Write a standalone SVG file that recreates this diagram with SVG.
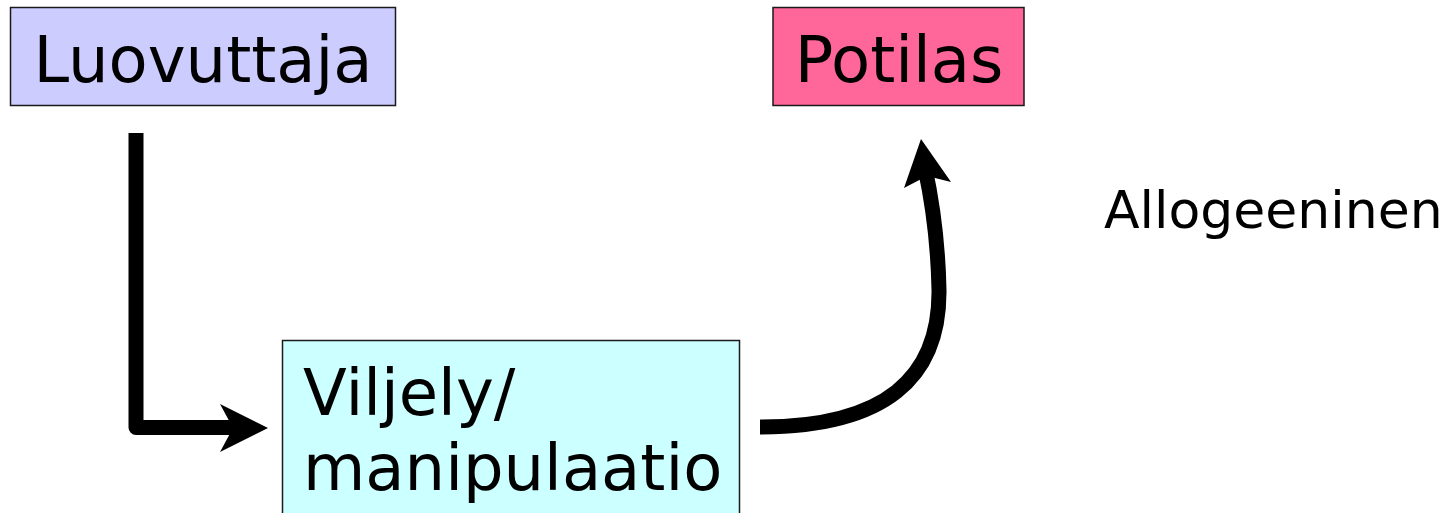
<svg xmlns="http://www.w3.org/2000/svg" width="1455" height="513" viewBox="0 0 1455 513">
  <style>
    .box { stroke: #1a1a1a; stroke-width: 1.5; }
    .label { font-family: "DejaVu Sans", Verdana, sans-serif; font-size: 64px; fill: #000; }
    .note { font-family: "DejaVu Sans", Verdana, sans-serif; font-size: 52px; fill: #000; }
    .shaft { fill: none; stroke: #000; stroke-width: 15; }
    .head { fill: #000; }
  </style>
  <rect width="1455" height="513" fill="#fff"/>

  <!-- connectors -->
  <g id="connectors">
    <!-- donor down and across to processing -->
    <path class="shaft" d="M136,133 V427.5 H238" stroke-linejoin="round" stroke-linecap="butt"/>
    <polygon class="head" points="220,404 268,428 220,452 233,428"/>
    <!-- processing up to patient -->
    <path class="shaft" stroke-width="16" d="M760,427 C885,427 940,378 939,290 C938,240 933,205 925,168"/>
    <polygon class="head" points="921,139 951,182 927,176 904,188"/>
  </g>

  <g id="node-luovuttaja">
    <rect class="box" x="10.5" y="7.5" width="385" height="98" fill="#CCCCFF"/>
    <text class="label" x="203" y="82" text-anchor="middle">Luovuttaja</text>
  </g>

  <g id="node-potilas">
    <rect class="box" x="773" y="7.5" width="251" height="98" fill="#FF6699"/>
    <text class="label" x="899" y="82" text-anchor="middle">Potilas</text>
  </g>

  <g id="node-viljely">
    <rect class="box" x="282.5" y="340.5" width="457" height="190" fill="#CCFFFF"/>
    <text class="label" x="303" y="415">Viljely/</text>
    <text class="label" x="303" y="490">manipulaatio</text>
  </g>

  <g id="label-allogeeninen">
    <text class="note" x="1104" y="228">Allogeeninen</text>
  </g>
</svg>
